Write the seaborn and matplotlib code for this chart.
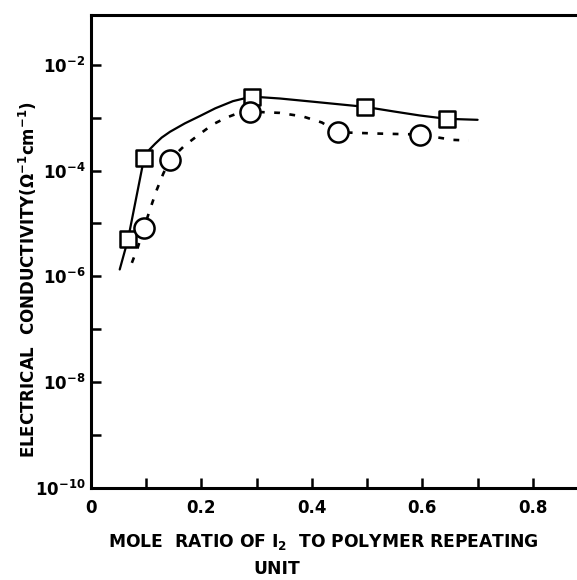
import matplotlib
matplotlib.use("Agg")
import matplotlib.pyplot as plt
import seaborn as sns
import pandas as pd

# measured points
square_x = [0.067, 0.096, 0.291, 0.496, 0.644]
square_y = [5.0e-6, 1.7e-4, 2.5e-3, 1.6e-3, 9.5e-4]
circle_x = [0.096, 0.143, 0.288, 0.447, 0.595]
circle_y = [8.3e-6, 1.6e-4, 1.3e-3, 5.3e-4, 4.8e-4]

# hand-drawn curves through the points
solid_x = [0.052, 0.067, 0.096, 0.106, 0.116, 0.128, 0.143, 0.17, 0.197, 0.225, 0.257, 0.291,
           0.342, 0.402, 0.496, 0.55, 0.595, 0.644, 0.70]
solid_y = [1.35e-6, 5.0e-6, 1.7e-4, 2.5e-4, 3.2e-4, 4.2e-4, 5.4e-4, 7.8e-4, 1.07e-3, 1.5e-3,
           2.05e-3, 2.5e-3, 2.3e-3, 2.0e-3, 1.6e-3, 1.3e-3, 1.1e-3, 9.5e-4, 9.1e-4]
dash_x = [0.074, 0.085, 0.096, 0.108, 0.119, 0.131, 0.143, 0.17, 0.197, 0.22, 0.245, 0.265,
          0.288, 0.342, 0.384, 0.418, 0.447, 0.52, 0.595, 0.655, 0.684]
dash_y = [1.8e-6, 3.6e-6, 8.3e-6, 2.0e-5, 4.3e-5, 8.8e-5, 1.6e-4, 3.0e-4, 4.9e-4, 7.4e-4,
          1.0e-3, 1.2e-3, 1.3e-3, 1.23e-3, 1.05e-3, 8.1e-4, 5.3e-4, 5.0e-4, 4.8e-4, 3.8e-4, 3.7e-4]

x_ticks = [0.0, 0.1, 0.2, 0.3, 0.4, 0.5, 0.6, 0.7, 0.8]
x_labels = ["0", "", "0.2", "", "0.4", "", "0.6", "", "0.8"]
y_exps = [-10, -9, -8, -7, -6, -5, -4, -3, -2]

sns.set_theme(style="ticks")
plt.rcParams["font.family"] = ["DejaVu Sans"]
plt.rcParams["font.weight"] = "bold"
plt.rcParams["text.color"] = "black"
plt.rcParams["xtick.color"] = "black"
plt.rcParams["ytick.color"] = "black"
plt.rcParams["mathtext.fontset"] = "custom"
plt.rcParams["mathtext.rm"] = "DejaVu Sans:bold"
plt.rcParams["mathtext.it"] = "DejaVu Sans:bold"
plt.rcParams["mathtext.bf"] = "DejaVu Sans:bold"

W, H = 577, 580
fig = plt.figure(figsize=(W / 100, H / 100), dpi=100)
ax = fig.add_axes([91 / W, 1 - 488 / H, 1 - 91 / W, (488 - 15) / H])

df_solid = pd.DataFrame({"x": solid_x, "y": solid_y})
df_dash = pd.DataFrame({"x": dash_x, "y": dash_y})
sns.lineplot(data=df_solid, x="x", y="y", ax=ax, color="black", lw=1.6,
             sort=False, estimator=None, zorder=2)
sns.lineplot(data=df_dash, x="x", y="y", ax=ax, color="black", lw=1.9,
             sort=False, estimator=None, zorder=2, linestyle=(0, (2.2, 3.6)))

sns.scatterplot(x=square_x, y=square_y, ax=ax, marker="s", s=120,
                facecolor="white", edgecolor="black", linewidth=1.8, zorder=3)
sns.scatterplot(x=circle_x, y=circle_y, ax=ax, marker="o", s=210,
                facecolor="white", edgecolor="black", linewidth=1.8, zorder=3)

ax.set_yscale("log")
ax.set_xlim(0, 0.88)
ax.set_ylim(1e-10, 10 ** -1.06)
ax.set_xticks(x_ticks)
ax.set_xticklabels(x_labels, fontsize=12, fontweight="bold")
ax.set_yticks([10.0 ** e for e in y_exps])
ax.set_yticklabels([r"$10^{%d}$" % e if e % 2 == 0 else "" for e in y_exps], fontsize=12)
ax.minorticks_off()
ax.tick_params(axis="both", direction="in", length=7, width=1.8, color="black",
               labelcolor="black")
ax.tick_params(axis="x", pad=8)
ax.tick_params(axis="y", pad=4)
ax.set_xlabel("")
ax.set_ylabel("")

for s in ["left", "bottom", "top"]:
    ax.spines[s].set_linewidth(2.2)
    ax.spines[s].set_color("black")
ax.spines["right"].set_visible(False)

fig.text(28 / W, 1 - 280 / H, r"ELECTRICAL  CONDUCTIVITY($\Omega^{-1}$cm$^{-1}$)",
         rotation=90, ha="center", va="center", fontsize=12, fontweight="bold", color="black")
fig.text(323 / W, 1 - 542 / H, r"MOLE  RATIO OF I$_2$  TO POLYMER REPEATING",
         ha="center", va="center", fontsize=12.3, fontweight="bold", color="black")
fig.text(277 / W, 2 / H, "UNIT", ha="center", va="bottom",
         fontsize=12.3, fontweight="bold", color="black")

fig.savefig("out.png", dpi=100)
